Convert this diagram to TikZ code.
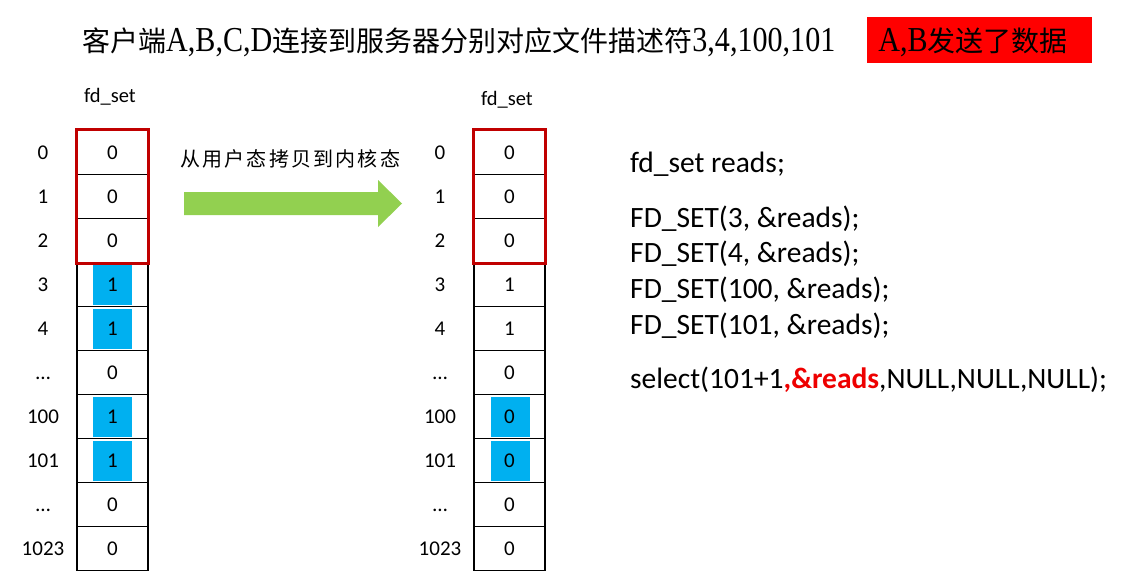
\documentclass[tikz,border=0pt]{standalone}
\usepackage{fontspec}
\setmainfont{Carlito}
\newfontfamily\cjk{Noto Sans CJK SC}
\newfontfamily\tnr[FakeStretch=0.86]{Liberation Serif}
\newcommand\zhtxt[1]{{\cjk\fontsize{28}{30}\selectfont #1}}
\newcommand\lattxt[1]{{\tnr\fontsize{35}{36}\selectfont #1}}
\definecolor{bluefill}{HTML}{00B0F0}
\definecolor{frame}{HTML}{C00000}
\definecolor{arrowgreen}{HTML}{92D050}
\definecolor{codered}{HTML}{EE0000}
\tikzset{
  cell/.style={draw=black, line width=1.3pt, minimum width=71pt, minimum height=44pt, inner sep=0pt,
     font=\fontsize{21}{23}\selectfont, text height=13.5pt, text depth=0pt},
  rowlbl/.style={inner sep=0pt, font=\fontsize{21}{23}\selectfont, text height=13.5pt, text depth=0pt},
  bluebox/.style={fill=bluefill, minimum width=39pt, minimum height=40pt, inner sep=0pt},
  redframe/.style={draw=frame, line width=3pt},
  codeline/.style={anchor=base west, inner sep=0pt, font=\fontsize{29.5}{31}\selectfont},
  setlbl/.style={inner sep=0pt, font=\fontsize{20.5}{22}\selectfont}
}
\begin{document}
\begin{tikzpicture}[x=1pt,y=-1pt]
\useasboundingbox (0,0) rectangle (1126,581);
\fill[white] (0,0) rectangle (1126,581);

% title
\node[anchor=base west, inner sep=0pt] (title) at (82,51)
  {\zhtxt{客户端}\lattxt{A,B,C,D}\zhtxt{连接到服务器分别对应文件描述符}\lattxt{3,4,100,101}};
\node[fill=red, minimum width=225pt, minimum height=46pt, inner sep=0pt] (tag) at (979.5,40) {};
\node[anchor=base, inner sep=0pt] (tagtext) at (973,51) {\lattxt{A,B}\zhtxt{发送了数据}};

% fd_set labels
\node[setlbl] (setL) at (110,97) {fd\_set};
\node[setlbl] (setR) at (507,100) {fd\_set};

% blue highlights
\foreach \i in {3,4,6,7} \node[bluebox] (bL\i) at (112,{152.5+44*\i}) {};
\foreach \i in {6,7} \node[bluebox] (bR\i) at (510,{152.5+44*\i}) {};

% left table
\foreach \v/\l [count=\i from 0] in {0/0,0/1,0/2,1/3,1/4,0/…,1/100,1/101,0/…,0/1023} {
  \node[cell] (L\i) at (112.5,{152.5+44*\i}) {\v};
  \node[rowlbl] (LL\i) at (43,{152.5+44*\i}) {\l};
}
% right table
\foreach \v/\l [count=\i from 0] in {0/0,0/1,0/2,1/3,1/4,0/…,0/100,0/101,0/…,0/1023} {
  \node[cell] (R\i) at (509.5,{152.5+44*\i}) {\v};
  \node[rowlbl] (RL\i) at (440,{152.5+44*\i}) {\l};
}
\draw[redframe] (L0.north west) rectangle (L2.south east);
\draw[redframe] (R0.north west) rectangle (R2.south east);

% arrow
\fill[arrowgreen] (184,192) -- (378,192) -- (378,180) -- (402,203.5) -- (378,227) -- (378,215) -- (184,215) -- cycle;
\node[anchor=base west, inner sep=0pt] (copylbl) at (180,166)
  {\cjk\fontsize{20}{22}\selectfont\addfontfeature{LetterSpace=11}从用户态拷贝到内核态};

% code
\node[codeline] (c0) at (630,172) {fd\_set reads;};
\node[codeline] (c1) at (630,227) {FD\_SET(3, \&reads);};
\node[codeline] (c2) at (630,262.5) {FD\_SET(4, \&reads);};
\node[codeline] (c3) at (630,298.5) {FD\_SET(100, \&reads);};
\node[codeline] (c4) at (630,334.5) {FD\_SET(101, \&reads);};
\node[codeline] (c5) at (630,388) {select(101+1{\color{codered}\bfseries ,\&reads},NULL,NULL,NULL);};
\end{tikzpicture}
\end{document}
